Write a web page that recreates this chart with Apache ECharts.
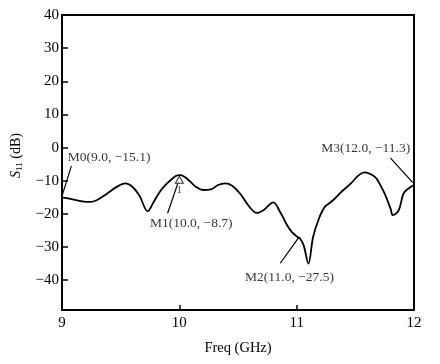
<!DOCTYPE html>
<html>
<head>
<meta charset="utf-8">
<style>html,body{margin:0;padding:0;background:#fff;}#c{width:440px;height:364px;}</style>
<script src="https://cdn.jsdelivr.net/npm/echarts@6/dist/echarts.min.js"></script>
</head>
<body>
<div id="c"></div>
<script>
// S11 curve (frequency in GHz, value in dB)
var freq = [9.00, 9.05, 9.10, 9.17, 9.24, 9.30, 9.38, 9.46, 9.54, 9.60, 9.66, 9.73, 9.78, 9.84, 9.92, 9.97, 10.00, 10.04, 10.09, 10.14, 10.20, 10.27, 10.33, 10.39, 10.45, 10.52, 10.60, 10.66, 10.72, 10.80, 10.86, 10.92, 10.96, 11.00, 11.03, 11.06, 11.10, 11.14, 11.19, 11.24, 11.31, 11.38, 11.46, 11.53, 11.58, 11.64, 11.68, 11.75, 11.80, 11.82, 11.87, 11.91, 11.95, 12.00];
var s11  = [-15.1, -15.3, -15.7, -16.2, -16.4, -15.8, -14.0, -12.0, -10.8, -11.8, -14.5, -19.2, -16.5, -13.0, -10.0, -8.6, -8.3, -8.7, -10.2, -11.8, -12.8, -12.6, -11.3, -10.8, -11.5, -14.0, -18.0, -19.7, -18.8, -16.5, -19.5, -23.5, -25.5, -26.8, -27.5, -29.5, -35.0, -27.0, -21.4, -17.9, -15.9, -13.4, -10.9, -8.3, -7.5, -8.2, -9.3, -13.9, -18.4, -20.4, -18.9, -13.9, -12.4, -11.3];

// axis ticks
var xTicks = [9, 10, 11, 12];
var yTicks = [-40, -30, -20, -10, 0, 10, 20, 30, 40];
var yMin = -49, yMax = 40;

// marker annotations: label text, label anchor, leader line start/end
var markerNames = ['M0(9.0, \u221215.1)', 'M1(10.0, \u22128.7)', 'M2(11.0, \u221227.5)', 'M3(12.0, \u221211.3)'];
var labelX = [9.05, 9.75, 10.56, 11.21];
var labelY = [-2.9, -22.8, -39.3, -0.2];
var leadFromX = [9.08, 9.90, 10.86, 11.80];
var leadFromY = [-5.5, -19.8, -34.9, -3.2];
var leadToX = [9.00, 9.99, 11.02, 11.99];
var leadToY = [-14.6, -10.5, -27.0, -10.6];
// triangle marker
var triX = [10.0], triY = [-9.7], triText = ['1'];

var FONT = '"Liberation Serif", "DejaVu Serif", serif';
function fmtNum(v){ return v < 0 ? '\u2212' + Math.abs(v) : String(v); }

var series = [{
  type: 'line', data: freq.map(function(f, i){ return [f, s11[i]]; }),
  smooth: 0.35, symbol: 'none', lineStyle: { color: '#000', width: 1.8 }, z: 3
}];
for (var i = 0; i < markerNames.length; i++) {
  series.push({
    type: 'line', data: [[leadFromX[i], leadFromY[i]], [leadToX[i], leadToY[i]]],
    symbol: 'none', lineStyle: { color: '#000', width: 1.2 }, silent: true, z: 4
  });
}
series.push({
  type: 'scatter', symbolSize: 0,
  data: labelX.map(function(x, i){ return { value: [x, labelY[i]], name: markerNames[i] }; }),
  label: { show: true, position: 'right', distance: 0, formatter: '{b}', color: '#000',
           fontFamily: FONT, fontSize: 13.5 }, z: 5
});
series.push({
  type: 'scatter', symbol: 'triangle', symbolSize: [8, 7],
  itemStyle: { color: '#fff', borderColor: '#000', borderWidth: 1 },
  data: triX.map(function(x, i){ return { value: [x, triY[i]], name: triText[i] }; }),
  label: { show: true, position: 'bottom', distance: 2, formatter: '{b}', color: '#000',
           fontFamily: FONT, fontSize: 10 }, z: 6
});

var chart = echarts.init(document.getElementById('c'), null, { renderer: 'canvas' });
chart.setOption({
  animation: false,
  backgroundColor: '#fff',
  grid: { left: 62, right: 26, top: 15, bottom: 54, show: true, borderColor: '#000', borderWidth: 2, backgroundColor: 'transparent' },
  xAxis: {
    type: 'value', min: 9, max: 12, interval: 1,
    name: 'Freq (GHz)', nameLocation: 'middle', nameGap: 31,
    nameTextStyle: { fontFamily: FONT, fontSize: 14.5, color: '#000' },
    axisLine: { show: true, onZero: false, lineStyle: { color: '#000', width: 2 } },
    axisTick: { show: true, inside: true, length: 5, lineStyle: { color: '#000', width: 1.5 }, customValues: xTicks },
    axisLabel: { color: '#000', fontFamily: FONT, fontSize: 15, margin: 6, customValues: xTicks, formatter: fmtNum },
    splitLine: { show: false }
  },
  yAxis: {
    type: 'value', min: yMin, max: yMax,
    name: '{s|S}{sub|11} (dB)', nameLocation: 'middle', nameGap: 37, nameRotate: 90,
    nameTextStyle: { fontFamily: FONT, fontSize: 14, color: '#000', padding: [0, 0, 0, 14],
      rich: { s: { fontFamily: FONT, fontStyle: 'italic', fontSize: 14, color: '#000' },
              sub: { fontFamily: FONT, fontSize: 9, color: '#000', verticalAlign: 'bottom', padding: [8, 0, 0, 0] } } },
    axisLine: { show: true, onZero: false, lineStyle: { color: '#000', width: 2 } },
    axisTick: { show: true, inside: true, length: 6, lineStyle: { color: '#000', width: 1.5 }, customValues: yTicks },
    axisLabel: { color: '#000', fontFamily: FONT, fontSize: 15, margin: 3, customValues: yTicks, formatter: fmtNum },
    splitLine: { show: false }
  },
  series: series
});
</script>
</body>
</html>
